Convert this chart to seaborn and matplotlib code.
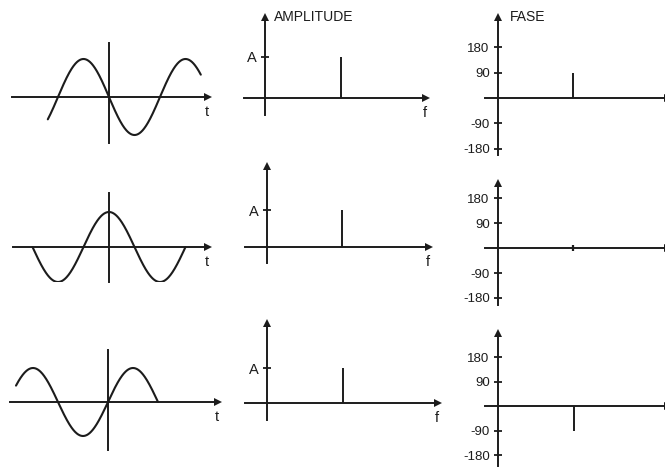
import numpy as np
import matplotlib.pyplot as plt
import seaborn as sns

# spectrum of the three signals: one line each, same frequency and amplitude
freq = [1.0, 1.0, 1.0]
amplitude = [1.0, 1.0, 1.0]
phase_deg = [90, 0, -90]

# stretch of each time signal that is drawn (in periods)
t_start = [-0.6, -0.75, -0.92]
t_end = [0.9, 0.75, 0.5]

phase_ticks = [180, 90, -90, -180]
amp_tick_label = 'A'

INK = '#1c1c1c'
LW = 1.4
W, H = 665, 470

sns.set_style('white')
plt.rcParams['font.family'] = ['Liberation Sans Narrow', 'Liberation Sans', 'DejaVu Sans']
plt.rcParams['font.size'] = 10

fig = plt.figure(figsize=(W / 100, H / 100), dpi=100)


def place(box, origin, scale):
    # box / origin in pixels of the figure, scale = pixels per data unit
    x0, x1, y0, y1 = box
    ox, oy = origin
    sx, sy = scale
    ax = fig.add_axes([x0 / W, 1 - y1 / H, (x1 - x0) / W, (y1 - y0) / H])
    ax.set_xlim((x0 - ox) / sx, (x1 - ox) / sx)
    ax.set_ylim((oy - y1) / sy, (oy - y0) / sy)
    ax.patch.set_visible(False)
    for side in ['top', 'right']:
        ax.spines[side].set_visible(False)
    for side in ['left', 'bottom']:
        ax.spines[side].set_position(('data', 0))
        ax.spines[side].set_linewidth(LW)
        ax.spines[side].set_color(INK)
    ax.set_xticks([])
    ax.set_yticks([])
    ax.tick_params(axis='y', left=True, direction='inout', length=6, width=1.3,
                   color=INK, pad=3, labelsize=9.5, labelcolor=INK)
    # arrow on the horizontal axis
    ax.plot(1, 0, '>', transform=ax.get_yaxis_transform(), clip_on=False,
            ms=5.5, color=INK, mew=0)
    return ax


def up_arrow(ax):
    ax.plot(0, 1, '^', transform=ax.get_xaxis_transform(), clip_on=False,
            ms=5.5, color=INK, mew=0)


def axis_label(ax, text, dy=-15, dx=-1):
    ax.annotate(text, xy=(1, 0), xycoords=ax.get_yaxis_transform(),
                xytext=(dx, dy), textcoords='offset pixels',
                ha='center', va='center', fontsize=10.5, color=INK)


# pixel layout of the three rows
time_layout = [
    ((12, 208, 43, 143), (109, 97), (102, 38)),
    ((13, 208, 193, 282), (109, 247), (102, 35)),
    ((10, 218, 350, 450), (108, 402), (100, 34)),
]
amp_layout = [
    ((244, 426, 17, 115), (265, 98), (76, 41)),
    ((245, 429, 166, 263), (267, 247), (75, 37)),
    ((245, 438, 323, 420), (267, 403), (76, 35)),
]
phase_layout = [
    ((485, 668, 17, 155), (498, 98), (75, 25.3 / 90)),
    ((485, 668, 183, 305), (498, 248), (75, 25 / 90)),
    ((485, 668, 333, 466), (498, 406), (76, 24.5 / 90)),
]

for i in range(3):
    # time signal A cos(2 pi f t + phase)
    ax = place(*time_layout[i])
    t = np.linspace(t_start[i], t_end[i], 400)
    s = amplitude[i] * np.cos(2 * np.pi * freq[i] * t + np.deg2rad(phase_deg[i]))
    sns.lineplot(x=t, y=s, ax=ax, color=INK, lw=1.5, sort=False)
    axis_label(ax, 't')

    # amplitude spectrum
    ax = place(*amp_layout[i])
    up_arrow(ax)
    ax.vlines(freq[i], 0, amplitude[i], color=INK, lw=LW)
    ax.set_yticks([amplitude[i]])
    ax.set_yticklabels([amp_tick_label], fontsize=10.5)
    axis_label(ax, 'f')
    if i == 0:
        ax.annotate('AMPLITUDE', xy=(0, 1), xycoords=ax.get_xaxis_transform(),
                    xytext=(9, 0), textcoords='offset pixels',
                    ha='left', va='center', fontsize=10, color=INK)

    # phase spectrum
    ax = place(*phase_layout[i])
    up_arrow(ax)
    ax.vlines(freq[i], 0, phase_deg[i], color=INK, lw=LW)
    if phase_deg[i] == 0:
        ax.plot(freq[i], 0, marker='|', ms=4, mew=1.6, color=INK)
    ax.set_yticks(phase_ticks)
    ax.set_yticklabels([str(v) for v in phase_ticks])
    if i == 0:
        ax.annotate('FASE', xy=(0, 1), xycoords=ax.get_xaxis_transform(),
                    xytext=(12, 0), textcoords='offset pixels',
                    ha='left', va='center', fontsize=10, color=INK)

fig.savefig('out.png', dpi=100)
